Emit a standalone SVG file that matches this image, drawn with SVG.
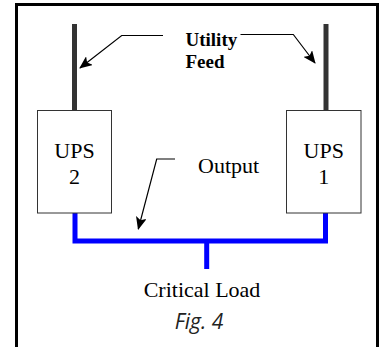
<svg xmlns="http://www.w3.org/2000/svg" width="382" height="347" viewBox="0 0 382 347">
<defs>
<style>
.frame{fill:none;stroke:#000;stroke-width:3}
.feed{stroke:#333;stroke-width:5;fill:none}
.box{fill:#fff;stroke:#333;stroke-width:1}
.bus{stroke:#0000ff;stroke-width:5;fill:none}
.ptr{stroke:#000;stroke-width:1.2;fill:none}
.t{font-family:"Liberation Serif","Times New Roman",serif;font-size:22px;fill:#000}
.b{font-family:"Liberation Serif","Times New Roman",serif;font-size:19px;font-weight:bold;fill:#000}
.fig{font-family:"Open Sans","Noto Sans",sans-serif;font-size:21px;font-style:italic;fill:#222}
</style>
<marker id="ah" viewBox="0 0 13 11" refX="12" refY="5.5" markerWidth="13" markerHeight="11" markerUnits="userSpaceOnUse" orient="auto">
<path d="M0,0 L13,5.5 L0,11 L3,5.5 Z" fill="#000"/>
</marker>
</defs>
<rect class="frame" x="16.5" y="4.5" width="361" height="400"/>
<g id="connectors">
<line class="feed" x1="74.5" y1="24" x2="74.5" y2="111"/>
<line class="feed" x1="326" y1="24" x2="326" y2="111"/>
<polyline class="bus" points="75,213 75,241 325.5,241 325.5,213"/>
<line class="bus" x1="206.7" y1="241" x2="206.7" y2="269"/>
<polyline class="ptr" points="163,35.5 121.7,35.5 80,68" marker-end="url(#ah)"/>
<polyline class="ptr" points="240.5,34.5 293.3,34.5 315,63" marker-end="url(#ah)"/>
<polyline class="ptr" points="175,159 156.7,159 138.3,229" marker-end="url(#ah)"/>
</g>
<g id="ups2">
<rect class="box" x="37.5" y="110.5" width="74" height="102.5"/>
<text class="t" x="74.5" y="158" text-anchor="middle">UPS</text>
<text class="t" x="74.5" y="183.5" text-anchor="middle">2</text>
</g>
<g id="ups1">
<rect class="box" x="286.5" y="110.5" width="74.5" height="102.5"/>
<text class="t" x="323.7" y="158" text-anchor="middle">UPS</text>
<text class="t" x="323.7" y="183.5" text-anchor="middle">1</text>
</g>
<g id="utility-feed">
<text class="b" x="185.5" y="46">Utility</text>
<text class="b" x="185.5" y="68">Feed</text>
</g>
<g id="output-label">
<text class="t" x="198" y="173.3">Output</text>
</g>
<g id="critical-load">
<text class="t" x="202" y="297" text-anchor="middle">Critical Load</text>
</g>
<text class="fig" x="199" y="329" text-anchor="middle">Fig. 4</text>
</svg>
